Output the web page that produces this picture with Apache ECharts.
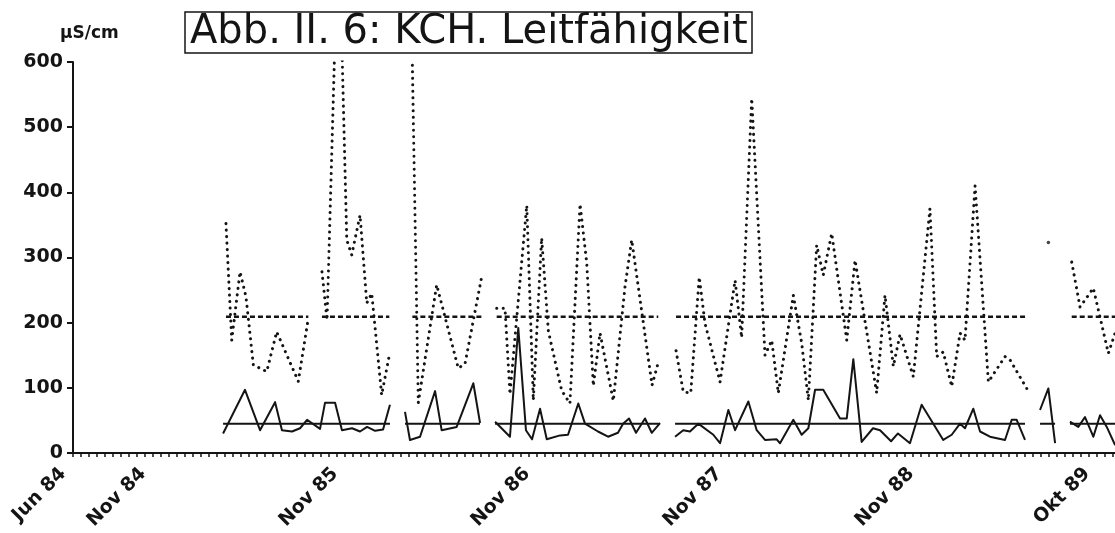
<!DOCTYPE html>
<html>
<head>
<meta charset="utf-8">
<script src="https://cdn.jsdelivr.net/npm/echarts@6/dist/echarts.min.js"></script>
<style>
html,body{margin:0;padding:0;background:#fff;}
#chart{width:1115px;height:533px;}
</style>
</head>
<body>
<div id="chart"></div>
<script>
// x values: months since Jun 1984 (0 = Jun 84); null marks a gap in the record
const labelMonths = [0, 5, 17, 29, 41, 53, 64];
const labelTexts = ['Jun 84', 'Nov 84', 'Nov 85', 'Nov 86', 'Nov 87', 'Nov 88', 'Okt 89'];
const yTickValues = [0, 100, 200, 300, 400, 500, 600];

// dotted curve (upper series), µS/cm
const dotMonths = [
  9.56, 9.92, 10.44, 10.81, 11.27, 11.69, 12.11, 12.73, 14.08, 14.71, null,
  15.56, 15.88, 16.38, 16.79, 17.11, 17.42, 17.94, 18.36, 18.67, 19.29, 19.77, null,
  21.21, 21.58, 22.73, 24.08, 24.5, 25.54, null,
  26.48, 27.0, 27.31, 28.36, 28.77, 29.29, 29.71, 30.54, 31.06, 31.69, 32.11, 32.52, 32.94, 33.77, 34.5, 34.92, 36.19, 36.58, null,
  37.69, 38.14, 38.61, 39.14, 39.5, 40.44, 41.38, 41.79, 42.42, 43.25, 43.67, 44.08, 45.02, 45.54, 45.96, 46.48, 46.89, 47.42, 48.36, 48.88, 50.23, 50.75, 51.27, 51.69, 52.52, 53.56, 53.98, 54.39, 54.92, 55.44, 55.75, 56.38, 57.21, 58.25, 58.56, 59.61, null,
  60.96, null,
  62.42, 62.94, 63.77, 64.71, 65.13
];
const dotValues = [
  352, 173, 278, 240, 135, 130, 125, 186, 110, 207, null,
  278, 204, 640, 640, 327, 304, 365, 230, 245, 89, 150, null,
  595, 77, 258, 130, 137, 270, null,
  222, 222, 90, 380, 81, 330, 187, 96, 76, 382, 291, 103, 184, 80, 255, 327, 104, 139, null,
  157, 94, 92, 270, 199, 109, 265, 177, 544, 150, 173, 92, 242, 169, 81, 319, 273, 337, 173, 296, 92, 242, 133, 182, 117, 375, 148, 155, 102, 184, 173, 410, 109, 148, 143, 99, null,
  323, null,
  293, 224, 253, 153, 184
];
const dotMean = 209;

// solid curve (lower series), µS/cm
const solMonths = [
  9.38, 10.75, 11.69, 12.63, 13.06, 13.69, 14.19, 14.63, 15.44, 15.75, 16.38, 16.81, 17.44, 17.94, 18.38, 18.88, 19.38, 19.81, null,
  20.75, 21.06, 21.69, 22.63, 23.04, 23.98, 25.02, 25.44, null,
  26.38, 27.31, 27.83, 28.31, 28.69, 29.19, 29.61, 30.44, 30.94, 31.58, 32.0, 32.81, 33.44, 34.06, 34.38, 34.75, 35.19, 35.75, 36.17, 36.69, null,
  37.63, 38.14, 38.56, 39.08, 40.02, 40.44, 40.96, 41.38, 42.21, 42.73, 43.25, 43.98, 44.19, 45.02, 45.54, 45.96, 46.38, 46.89, 47.94, 48.36, 48.77, 49.29, 50.0, 50.44, 51.13, 51.56, 52.31, 53.04, 54.39, 54.92, 55.44, 55.75, 56.27, 56.69, 57.31, 58.25, 58.67, 58.98, 59.5, null,
  60.44, 60.96, 61.38, null,
  62.31, 62.83, 63.25, 63.77, 64.19, 64.61, 65.13
];
const solValues = [
  30, 97, 35, 78, 35, 33, 38, 51, 37, 77, 77, 35, 38, 33, 40, 34, 36, 74, null,
  63, 20, 25, 95, 35, 40, 107, 46, null,
  48, 25, 192, 35, 21, 68, 21, 27, 28, 76, 45, 33, 25, 31, 45, 53, 31, 53, 31, 46, null,
  25, 35, 33, 45, 28, 15, 66, 35, 79, 35, 20, 21, 15, 51, 28, 38, 97, 97, 53, 53, 144, 17, 38, 35, 18, 30, 15, 74, 20, 28, 45, 38, 68, 33, 25, 20, 51, 51, 20, null,
  66, 99, 15, null,
  48, 40, 55, 25, 58, 40, 12
];
const solMean = 45;

const X_MIN = 0, X_MAX = 65.125;

function toPairs(xs, ys) {
  return xs.map((x, i) => (x === null || ys[i] === null) ? ['-', '-'] : [x, ys[i]]);
}
function meanSegments(xs, ys, mean) {
  const out = [];
  let start = null, last = null, count = 0;
  const flush = () => {
    if (start !== null && count > 1) { out.push([start, mean], [last, mean], ['-', '-']); }
    start = null; last = null; count = 0;
  };
  xs.forEach((x, i) => {
    if (x === null || ys[i] === null) { flush(); return; }
    if (start === null) start = x;
    last = x; count++;
  });
  flush();
  return out;
}
function isolated(xs, ys) {
  const out = [];
  xs.forEach((x, i) => {
    if (x === null || ys[i] === null) return;
    const prevGap = i === 0 || xs[i - 1] === null;
    const nextGap = i === xs.length - 1 || xs[i + 1] === null;
    if (prevGap && nextGap) out.push([x, ys[i]]);
  });
  return out;
}

const ink = '#141414';
const fontFam = 'DejaVu Sans';
const ticksHalfMonth = [];
for (let k = 0; k <= 130; k++) ticksHalfMonth.push(k * 0.5);

const chart = echarts.init(document.getElementById('chart'), null, { renderer: 'canvas' });
chart.setOption({
  animation: false,
  backgroundColor: '#ffffff',
  title: [
    {
      text: 'Abb. II. 6: KCH. Leitfähigkeit',
      left: 185, top: 12,
      padding: [0, 5],
      borderColor: ink, borderWidth: 1.5,
      textStyle: { fontFamily: fontFam, fontSize: 40, fontWeight: 'normal', color: ink, lineHeight: 41 }
    },
    {
      text: 'µS/cm',
      left: 60, top: 25, padding: 0,
      textStyle: { fontFamily: fontFam, fontSize: 17, fontWeight: 'bold', color: ink }
    }
  ],
  grid: { left: 73, right: 0, top: 62, bottom: 80, containLabel: false },
  xAxis: {
    type: 'value', min: X_MIN, max: X_MAX,
    splitLine: { show: false },
    axisLine: { show: true, lineStyle: { color: ink, width: 2 } },
    axisTick: { show: true, customValues: ticksHalfMonth, length: 4, lineStyle: { color: ink, width: 1.5 } },
    axisLabel: {
      customValues: labelMonths,
      rotate: 45, margin: 8, padding: [0, 14, 0, 0],
      fontFamily: fontFam, fontSize: 19, fontWeight: 'bold', color: ink,
      formatter: v => { const i = labelMonths.indexOf(v); return i >= 0 ? labelTexts[i] : ''; }
    }
  },
  yAxis: {
    type: 'value', min: 0, max: 600, interval: 100,
    splitLine: { show: false },
    axisLine: { show: true, lineStyle: { color: ink, width: 2 } },
    axisTick: { show: true, length: 6, lineStyle: { color: ink, width: 2 } },
    axisLabel: {
      margin: 10, fontFamily: fontFam, fontSize: 19, fontWeight: 'bold', color: ink,
      formatter: v => yTickValues.indexOf(v) >= 0 ? String(v) : ''
    }
  },
  series: [
    {
      name: 'Leitfähigkeit (gepunktet)', type: 'line', data: toPairs(dotMonths, dotValues),
      symbol: 'none', connectNulls: false, clip: true,
      lineStyle: { color: ink, width: 3, type: [0.1, 6.4], cap: 'round', join: 'round' }
    },
    {
      name: 'Mittel (gepunktet)', type: 'line', data: meanSegments(dotMonths, dotValues, dotMean),
      symbol: 'none', connectNulls: false,
      lineStyle: { color: ink, width: 2.5, type: [5, 3] }
    },
    {
      name: 'Einzelwert', type: 'scatter', data: isolated(dotMonths, dotValues),
      symbolSize: 3.5, itemStyle: { color: ink }
    },
    {
      name: 'Leitfähigkeit (durchgezogen)', type: 'line', data: toPairs(solMonths, solValues),
      symbol: 'none', connectNulls: false, clip: true,
      lineStyle: { color: ink, width: 2, join: 'round' }
    },
    {
      name: 'Mittel (durchgezogen)', type: 'line', data: meanSegments(solMonths, solValues, solMean),
      symbol: 'none', connectNulls: false,
      lineStyle: { color: ink, width: 2 }
    }
  ]
});
</script>
</body>
</html>
